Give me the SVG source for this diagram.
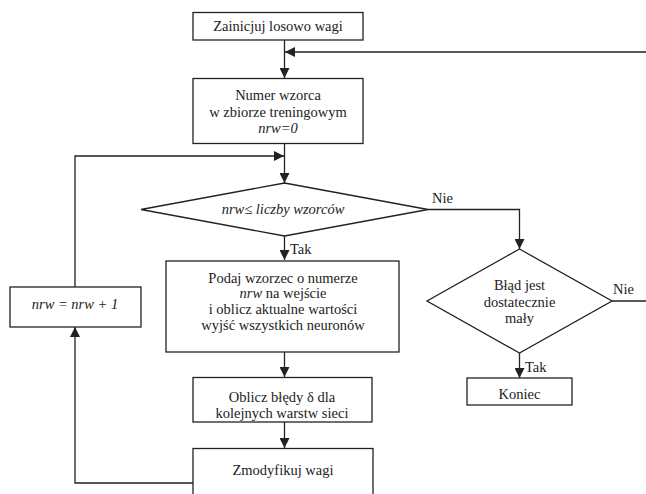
<svg xmlns="http://www.w3.org/2000/svg" width="646" height="494" viewBox="0 0 646 494">
<style>
.b{fill:#fff;stroke:#222;stroke-width:1.3}
.t{font-family:"Liberation Serif","Times New Roman",serif;font-size:14.5px;fill:#222;text-anchor:middle}
.l{font-family:"Liberation Serif","Times New Roman",serif;font-size:14.5px;fill:#222}
.i{font-style:italic}
.c{fill:none;stroke:#222;stroke-width:1.3}
</style>
<defs>
<marker id="a" viewBox="0 0 10 10" refX="10" refY="5" markerWidth="10" markerHeight="10" markerUnits="userSpaceOnUse" orient="auto">
<path d="M0,0 L10,5 L0,10 z" fill="#222"/>
</marker>
</defs>
<rect width="646" height="494" fill="#fff"/>
<g id="connectors">
<line class="c" x1="284.5" y1="40" x2="284.5" y2="78" marker-end="url(#a)"/>
<line class="c" x1="646" y1="52" x2="285" y2="52" marker-end="url(#a)"/>
<line class="c" x1="284.5" y1="143" x2="284.5" y2="183" marker-end="url(#a)"/>
<polyline class="c" points="75,287 75,156 284,156" marker-end="url(#a)"/>
<line class="c" x1="284.5" y1="236" x2="284.5" y2="260" marker-end="url(#a)"/>
<polyline class="c" points="428,209.5 519.5,209.5 519.5,249" marker-end="url(#a)"/>
<line class="c" x1="612" y1="301" x2="646" y2="301"/>
<line class="c" x1="519.5" y1="353" x2="519.5" y2="378" marker-end="url(#a)"/>
<line class="c" x1="284.5" y1="352" x2="284.5" y2="377" marker-end="url(#a)"/>
<line class="c" x1="284.5" y1="422" x2="284.5" y2="448" marker-end="url(#a)"/>
<polyline class="c" points="193,483 75,483 75,327" marker-end="url(#a)"/>
<text class="l" x="290" y="254">Tak</text>
<text class="l" x="432" y="203">Nie</text>
<text class="l" x="613" y="294">Nie</text>
<text class="l" x="525" y="372">Tak</text>
</g>
<g id="start">
<rect class="b" x="193" y="12.5" width="170" height="27.5"/>
<text class="t" x="278" y="31">Zainicjuj losowo wagi</text>
</g>
<g id="init">
<rect class="b" x="193" y="78.5" width="170" height="65"/>
<text class="t" x="278" y="100">Numer wzorca</text>
<text class="t" x="278" y="117">w zbiorze treningowym</text>
<text class="t i" x="278" y="133">nrw=0</text>
</g>
<g id="cond1">
<polygon class="b" points="284.5,183 428,209.5 284.5,236 141,209.5"/>
<text class="t i" x="283" y="214">nrw≤ liczby wzorców</text>
</g>
<g id="feed">
<rect class="b" x="166" y="261" width="233" height="91"/>
<text class="t" x="283" y="283">Podaj wzorzec o numerze</text>
<text class="t" x="283" y="298"><tspan class="i">nrw</tspan> na wejście</text>
<text class="t" x="283" y="314">i oblicz aktualne wartości</text>
<text class="t" x="283" y="330">wyjść wszystkich neuronów</text>
</g>
<g id="errors">
<rect class="b" x="193" y="377.5" width="179" height="44.5"/>
<text class="t" x="282" y="402">Oblicz błędy δ dla</text>
<text class="t" x="282" y="418">kolejnych warstw sieci</text>
</g>
<g id="modify">
<rect class="b" x="193" y="448.5" width="180" height="60"/>
<text class="t" x="283" y="475">Zmodyfikuj wagi</text>
</g>
<g id="increment">
<rect class="b" x="10" y="287" width="131" height="40"/>
<text class="t i" x="75" y="309">nrw = nrw + 1</text>
</g>
<g id="cond2">
<polygon class="b" points="519.5,249 612,301 519.5,353 427,301"/>
<text class="t" x="519.5" y="290">Błąd jest</text>
<text class="t" x="519.5" y="307">dostatecznie</text>
<text class="t" x="519.5" y="323">mały</text>
</g>
<g id="end">
<rect class="b" x="467" y="378" width="105" height="27"/>
<text class="t" x="519.5" y="399">Koniec</text>
</g>
</svg>
